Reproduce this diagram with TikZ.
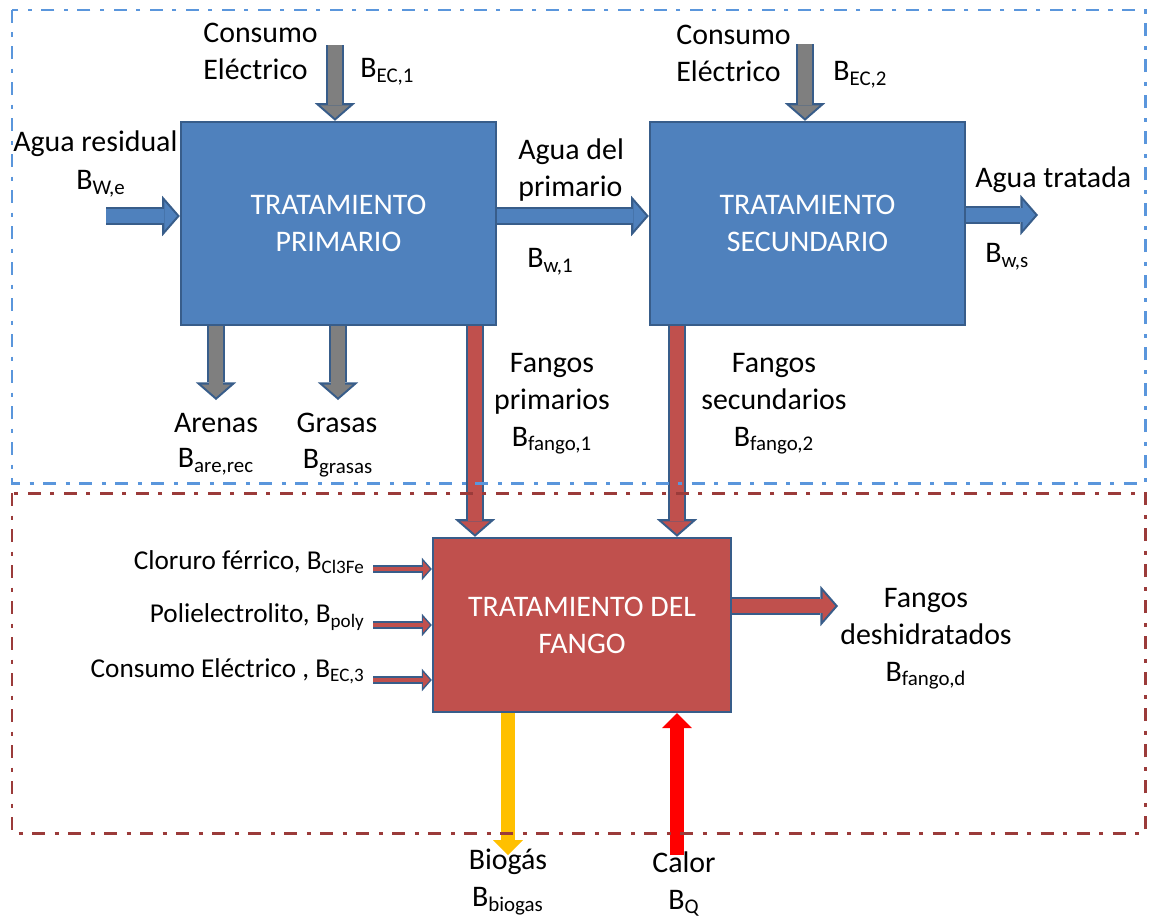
\documentclass[tikz,border=0pt]{standalone}
\usepackage{fontspec}
\setmainfont{Carlito}
\usetikzlibrary{arrows.meta,backgrounds}

\definecolor{boxblue}{HTML}{4F81BD}
\definecolor{boxred}{HTML}{C0504D}
\definecolor{edgeblue}{HTML}{385D8A}
\definecolor{flowgray}{HTML}{7F7F7F}
\definecolor{zoneblue}{HTML}{5A96DC}
\definecolor{zonered}{HTML}{9B3B3A}
\definecolor{gasyellow}{HTML}{FFC000}
\definecolor{heatred}{HTML}{FF0000}

\begin{document}
\begin{tikzpicture}[x=0.02cm,y=-0.02cm,
    zone/.style={draw=#1, line width=1.7pt,
      dash pattern=on 7.4pt off 5.4pt on 2.3pt off 5.4pt},
    box/.style={draw=edgeblue, line width=1.4pt, text=white, align=center,
      font=\fontsize{17}{21}\selectfont},
    bigflow/.style={draw=#1, line width=7.6pt, shorten >=1.6pt,
      -{Triangle[length=7.2pt,width=16.6pt,line width=0pt]},
      preaction={draw=edgeblue, line width=10pt, shorten >=0pt,
        -{Triangle[length=10pt,width=23pt,line width=0pt]}}},
    smallflow/.style={draw=#1, line width=2.8pt, shorten >=1.1pt,
      -{Triangle[length=3.8pt,width=8.5pt,line width=0pt]},
      preaction={draw=edgeblue, line width=4.5pt, shorten >=0pt,
        -{Triangle[length=5.7pt,width=13pt,line width=0pt]}}},
    plainflow/.style={draw=#1, line width=8.5pt,
      -{Triangle[length=8.5pt,width=17pt,line width=0pt]}}]

  \useasboundingbox (0,0) rectangle (1149,917);

  % zonas
  \draw[zone=zoneblue] (12,10) rectangle (1145,483);
  \draw[zone=zonered] (12,493) rectangle (1145,833);

  \begin{scope}[every node/.style={box}]
    \node[fill=boxblue, minimum width=6.3cm, minimum height=4.06cm]
      (prim) at (338.5,223.5) {TRATAMIENTO\\PRIMARIO};
    \node[fill=boxblue, minimum width=6.3cm, minimum height=4.06cm]
      (sec) at (807.5,223.5) {TRATAMIENTO\\SECUNDARIO};
    \node[fill=boxred, minimum width=5.96cm, minimum height=3.48cm]
      (fango) at (582,625) {TRATAMIENTO DEL\\FANGO};
  \end{scope}

  \coordinate (ec1) at (335,45);
  \coordinate (ec2) at (805,44);
  \coordinate (win) at (106,216);
  \coordinate (wmid) at (573,216);
  \coordinate (wout) at (1038,215);
  \coordinate (are) at (216,400);
  \coordinate (gra) at (338,400);
  \coordinate (f1) at (475,430);
  \coordinate (f2) at (677,430);
  \coordinate (cl) at (373,569);
  \coordinate (po) at (373,625);
  \coordinate (ec3) at (373,680);
  \coordinate (fd) at (838,606);
  \coordinate (bg) at (508,855);
  \coordinate (cq) at (677,855);

  \begin{scope}[every node/.style={inner sep=0pt, align=center,
      font=\fontsize{17}{21}\selectfont}]
    \node[anchor=west, align=left] (cons1) at (203,51) {Consumo\\Eléctrico};
    \node[anchor=west] (bec1) at (360,72) {B\textsubscript{EC,1}};
    \node[anchor=west] (aguares) at (13,144) {Agua residual};
    \node (bwe) at (101,184) {B\textsubscript{W,e}};
    \node[anchor=west, align=left] (aguaprim) at (518,170) {Agua del\\primario};
    \node[anchor=west] (bw1) at (527,262) {B\textsubscript{w,1}};
    \node[anchor=west, align=left] (cons2) at (676,53) {Consumo\\Eléctrico};
    \node[anchor=west] (bec2) at (833,75) {B\textsubscript{EC,2}};
    \node[anchor=west] (aguatrat) at (975,180) {Agua tratada};
    \node[anchor=west] (bws) at (985,257) {B\textsubscript{w,s}};
    \node (arenas) at (216,423) {Arenas};
    \node (bare) at (216,462) {B\textsubscript{are,rec}};
    \node (grasas) at (337,423) {Grasas};
    \node (bgrasas) at (338,463) {B\textsubscript{grasas}};
    \node (fangos1) at (552,404) {Fangos\\primarios\\B\textsubscript{fango,1}};
    \node (fangos2) at (774,404) {Fangos\\secundarios\\B\textsubscript{fango,2}};
    \node (fangosd) at (926,639) {Fangos\\deshidratados\\B\textsubscript{fango,d}};
    \node (biogas) at (508,882) {Biogás\\B\textsubscript{biogas}};
    \node (calor) at (684,884) {Calor\\B\textsubscript{Q}};
  \end{scope}

  \begin{scope}[every node/.style={inner sep=0pt, anchor=east,
      font=\fontsize{15.5}{19}\selectfont}]
    \node (cloruro) at (365,562) {Cloruro férrico, B\textsubscript{Cl3Fe}};
    \node (poly) at (365,617) {Polielectrolito, B\textsubscript{poly}};
    \node (elec3) at (365,671) {Consumo Eléctrico , B\textsubscript{EC,3}};
  \end{scope}

  \begin{scope}[on background layer]
    \draw[bigflow=flowgray] (ec1) -- (ec1 |- prim.north);
    \draw[bigflow=flowgray] (ec2) -- (ec2 |- sec.north);
    \draw[bigflow=boxblue] (win) -- (win -| prim.west);
    \draw[bigflow=boxblue] (wmid -| prim.east) -- (wmid -| sec.west);
    \draw[bigflow=boxblue] (wout -| sec.east) -- (wout);
    \draw[bigflow=flowgray] (are |- prim.south) -- (are);
    \draw[bigflow=flowgray] (gra |- prim.south) -- (gra);
    \draw[bigflow=boxred] (f1 |- prim.south) -- (f1 |- fango.north);
    \draw[bigflow=boxred] (f2 |- sec.south) -- (f2 |- fango.north);
    \draw[bigflow=boxred] (fd -| fango.east) -- (fd);
    \draw[smallflow=boxred] (cl) -- (cl -| fango.west);
    \draw[smallflow=boxred] (po) -- (po -| fango.west);
    \draw[smallflow=boxred] (ec3) -- (ec3 -| fango.west);
    \draw[plainflow=gasyellow] (bg |- fango.south) -- (bg);
    \draw[plainflow=heatred] (cq) -- (cq |- fango.south);
  \end{scope}

\end{tikzpicture}
\end{document}
